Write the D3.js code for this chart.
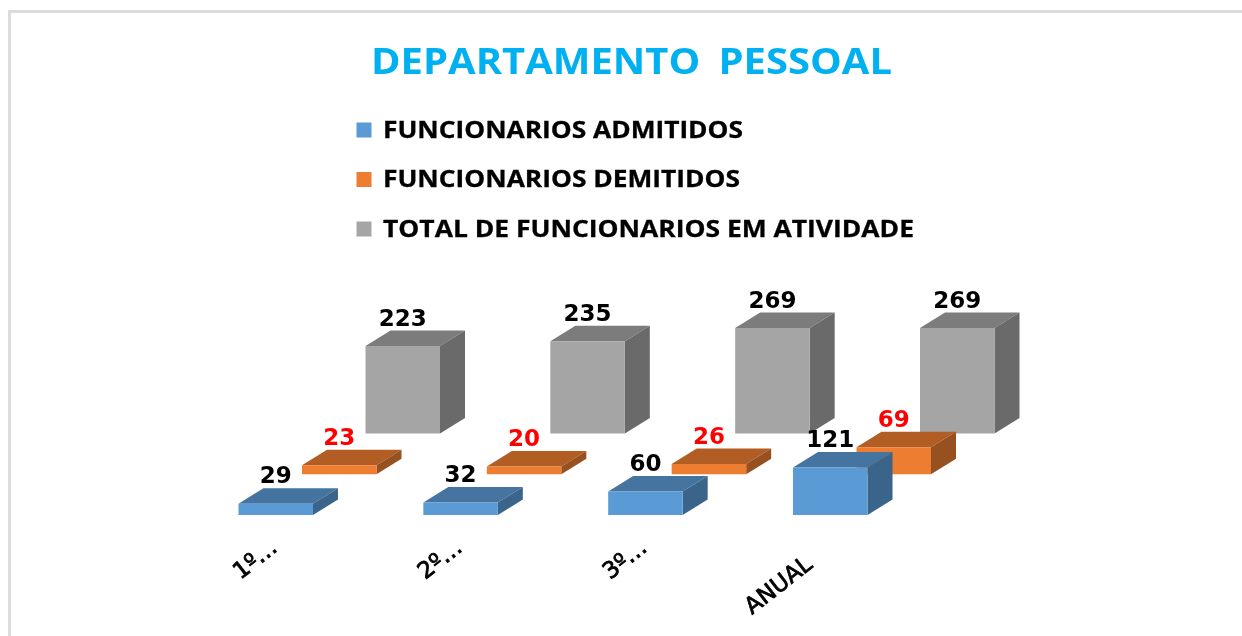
<!DOCTYPE html>
<html><head><meta charset="utf-8">
<script src="https://cdn.jsdelivr.net/npm/d3@7/dist/d3.min.js"></script>
<style>html,body{margin:0;padding:0;background:#fff}svg{display:block;filter:blur(0.5px)}</style>
</head><body>
<svg id="c" width="1242" height="636"></svg>
<script>
const categories = ["1º…", "2º…", "3º…", "ANUAL"];
const seriesNames = ["FUNCIONARIOS ADMITIDOS", "FUNCIONARIOS DEMITIDOS", "TOTAL DE FUNCIONARIOS EM ATIVIDADE"];
const admitidos = [29, 32, 60, 121];
const demitidos = [23, 20, 26, 69];
const total = [223, 235, 269, 269];
const titleText = "DEPARTAMENTO PESSOAL";

const seriesValues = [admitidos, demitidos, total];
const faceColors = ["#5b9bd5", "#ed7d31", "#a5a5a5"];
const topColors = ["#44749f", "#b15d24", "#7c7c7c"];
const sideColors = ["#3a6489", "#97501f", "#6a6a6a"];
const labelColors = ["#000", "#f00", "#000"];

const svg = d3.select("#c");
const fx = d3.scalePoint().domain(categories).range([238.5, 793]);
const sx = d3.scalePoint().domain(seriesNames).range([0, 127]);
const baseY = d3.scalePoint().domain(seriesNames).range([515, 433.5]);
const h = d3.scaleLinear().domain([0, 269]).range([0, 105.5]);
const barW = 74.5, depthX = 25, depthY = 15.5;

// frame
svg.append("path").attr("d", "M9.5,636V11.5H1242").attr("fill", "none").attr("stroke", "#dcdcdc").attr("stroke-width", 3);

svg.append("text").attr("x", 371).attr("y", 73.5).text(titleText)
  .attr("font-family", "'Open Sans'").attr("font-weight", 700).attr("font-size", 36)
  .style("word-spacing", "7px")
  .attr("fill", "#00b0f0").attr("textLength", 521).attr("lengthAdjust", "spacingAndGlyphs");

// legend
const legY = d3.scalePoint().domain(seriesNames).range([130, 229]);
const legW = [360, 357, 531];
seriesNames.forEach((s, i) => {
  svg.append("rect").attr("x", 356.5).attr("y", legY(s) - 7.5).attr("width", 15).attr("height", 15).attr("fill", faceColors[i]);
  svg.append("text").attr("x", 383).attr("y", legY(s) + 7.5).text(s)
    .attr("font-family", "'Open Sans'").attr("font-weight", 700).attr("font-size", 24)
    .attr("fill", "#000").attr("stroke", "#000").attr("stroke-width", 0.3)
    .attr("textLength", legW[i]).attr("lengthAdjust", "spacingAndGlyphs");
});

// bars: back series first, so nearer ones overlap them
const order = [2, 1, 0];
order.forEach(si => {
  const name = seriesNames[si];
  categories.forEach((c, ci) => {
    const v = seriesValues[si][ci];
    const x0 = fx(c) + sx(name), x1 = x0 + barW;
    const y0 = baseY(name), y1 = y0 - h(v);
    const poly = (pts, col) => svg.append("polygon").attr("points", pts.map(p => p.join(",")).join(" ")).attr("fill", col);
    poly([[x0, y1], [x1, y1], [x1 + depthX, y1 - depthY], [x0 + depthX, y1 - depthY]], topColors[si]);
    poly([[x1, y1], [x1 + depthX, y1 - depthY], [x1 + depthX, y0 - depthY], [x1, y0]], sideColors[si]);
    poly([[x0, y1], [x1, y1], [x1, y0], [x0, y0]], faceColors[si]);
  });
});
// data labels above everything
order.forEach(si => {
  const name = seriesNames[si];
  categories.forEach((c, ci) => {
    const v = seriesValues[si][ci];
    const x0 = fx(c) + sx(name);
    const y1 = baseY(name) - h(v) - depthY;
    svg.append("text").attr("x", x0 + barW / 2).attr("y", y1 - 5).attr("text-anchor", "middle").text(v)
      .attr("font-family", "'DejaVu Sans'").attr("font-weight", 700).attr("font-size", 23).attr("fill", labelColors[si]);
  });
});
// category labels
categories.forEach(c => {
  const anual = c === "ANUAL";
  const x = fx(c) + (anual ? -41 : 2), y = anual ? 615 : 580;
  svg.append("text").attr("transform", `translate(${x},${y}) rotate(-38)`)
    .text(c).attr("font-family", "'DejaVu Sans'").attr("font-weight", 400).attr("font-size", 23)
    .attr("fill", "#000").attr("stroke", "#000").attr("stroke-width", 0.8);
});
</script>
</body></html>
